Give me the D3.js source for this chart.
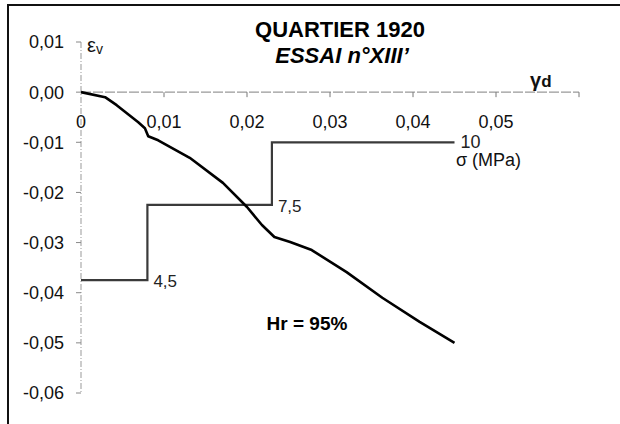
<!DOCTYPE html>
<html><head><meta charset="utf-8">
<script src="https://cdn.jsdelivr.net/npm/d3@7"></script>
<style>body{margin:0;background:#fff}svg{display:block}text{font-family:"Liberation Sans",Arial,sans-serif}</style>
</head><body>
<svg id="c" width="620" height="424"></svg>
<script>
// Data
const gamma = [0, 0.0029, 0.0043, 0.0069, 0.0077, 0.0081, 0.0093, 0.0131, 0.0171, 0.0200, 0.0218, 0.0233, 0.0252, 0.0278, 0.0320, 0.0363, 0.0408, 0.0450];
const epsV  = [0, -0.0010, -0.0026, -0.0060, -0.0072, -0.0088, -0.0096, -0.0131, -0.0181, -0.0229, -0.0265, -0.0289, -0.0299, -0.0315, -0.0359, -0.0410, -0.0458, -0.0500];
const stepStart = [0, 0.008, 0.023];
const stepEnd   = [0.008, 0.023, 0.045];
const sigma     = [4.5, 7.5, 10];
const sigmaLabels = ["4,5", "7,5", "10"];
const xTicks = [0, 0.01, 0.02, 0.03, 0.04, 0.05];
const xTickLabels = ["0", "0,01", "0,02", "0,03", "0,04", "0,05"];
const yTicks = [0.01, 0, -0.01, -0.02, -0.03, -0.04, -0.05, -0.06];
const yTickLabels = ["0,01", "0,00", "-0,01", "-0,02", "-0,03", "-0,04", "-0,05", "-0,06"];

const svg = d3.select("#c");
const x = d3.scaleLinear().domain([0, 0.06]).range([81, 579]);
const y = d3.scaleLinear().domain([-0.06, 0.01]).range([393, 42]);
const ys = d3.scaleLinear().domain([0, 12]).range([y(-0.06), y(0)]);

// frame
svg.append("path").attr("d", `M8,424 V5 H620`).attr("fill","none").attr("stroke","#111").attr("stroke-width",2);

// y axis
svg.append("line").attr("x1", x(0)).attr("x2", x(0)).attr("y1", y(0.01)).attr("y2", y(-0.06))
  .attr("stroke","#999").attr("stroke-width",1).attr("stroke-dasharray","6,2,1,2");
const yg = svg.append("g");
yTicks.forEach((t,i)=>{
  yg.append("line").attr("x1", x(0)-5).attr("x2", x(0)).attr("y1", y(t)).attr("y2", y(t)).attr("stroke","#888");
  yg.append("text").attr("x", 64).attr("y", y(t)).attr("dy","0.36em").attr("text-anchor","end")
    .attr("font-size",18).attr("fill","#111").text(yTickLabels[i]);
});

// x axis
svg.append("line").attr("x1", x(0)).attr("x2", x(0.06)).attr("y1", y(0)).attr("y2", y(0))
  .attr("stroke","#999").attr("stroke-width",1.2).attr("stroke-dasharray","10,2");
xTicks.concat([0.06]).forEach(t=>{
  if (t===0) return;
  svg.append("line").attr("x1", x(t)).attr("x2", x(t)).attr("y1", y(0)).attr("y2", y(0)+5).attr("stroke","#777");
});
xTicks.forEach((t,i)=>{
  svg.append("text").attr("x", x(t)).attr("y", 128).attr("text-anchor","middle")
    .attr("font-size",18).attr("fill","#111").text(xTickLabels[i]);
});

// axis titles
const ev = svg.append("text").attr("x", 87).attr("y", 52).attr("font-size",20).attr("fill","#111");
ev.append("tspan").text("ε");
ev.append("tspan").attr("font-size",14).attr("dy",2).text("v");
const gd = svg.append("text").attr("x", 530).attr("y", 87).attr("font-size",20).attr("font-weight","bold").attr("fill","#111");
gd.append("tspan").text("γ");
gd.append("tspan").attr("font-size",17).text("d");

// step line (sigma)
let stepPts = [];
sigma.forEach((s,i)=>{ stepPts.push([x(stepStart[i]), ys(s)]); stepPts.push([x(stepEnd[i]), ys(s)]); });
svg.append("path").attr("d", d3.line()(stepPts)).attr("fill","none").attr("stroke","#3a3a3a").attr("stroke-width",2.2);
sigma.forEach((s,i)=>{
  svg.append("text").attr("x", x(stepEnd[i]) + 6).attr("y", ys(s)).attr("dy", i===2 ? "0.3em" : "0.4em")
    .attr("font-size", i===2 ? 18 : 17).attr("fill","#222")
    .attr("font-family", i===1 ? "Liberation Serif, Times New Roman, serif" : null)
    .text(sigmaLabels[i]);
});
svg.append("text").attr("x", 456).attr("y", 166).attr("font-size",18).attr("fill","#111").text("σ (MPa)");

// curve
const pts = gamma.map((g,i)=>[g, epsV[i]]);
svg.append("path").attr("d", d3.line().x(d=>x(d[0])).y(d=>y(d[1])).curve(d3.curveLinear)(pts))
  .attr("fill","none").attr("stroke","#000").attr("stroke-width",2.6).attr("stroke-linejoin","round");

// titles
svg.append("text").attr("x", 340).attr("y", 37).attr("text-anchor","middle").attr("font-size",22).attr("font-weight","bold").attr("fill","#000").text("QUARTIER 1920");
svg.append("text").attr("x", 342).attr("y", 63).attr("text-anchor","middle").attr("font-size",22).attr("font-weight","bold").attr("font-style","italic").attr("fill","#000").text("ESSAI n°XIII’");
svg.append("text").attr("x", 307).attr("y", 330).attr("text-anchor","middle").attr("font-size",19).attr("font-weight","bold").attr("fill","#000").text("Hr = 95%");
</script>
</body></html>
